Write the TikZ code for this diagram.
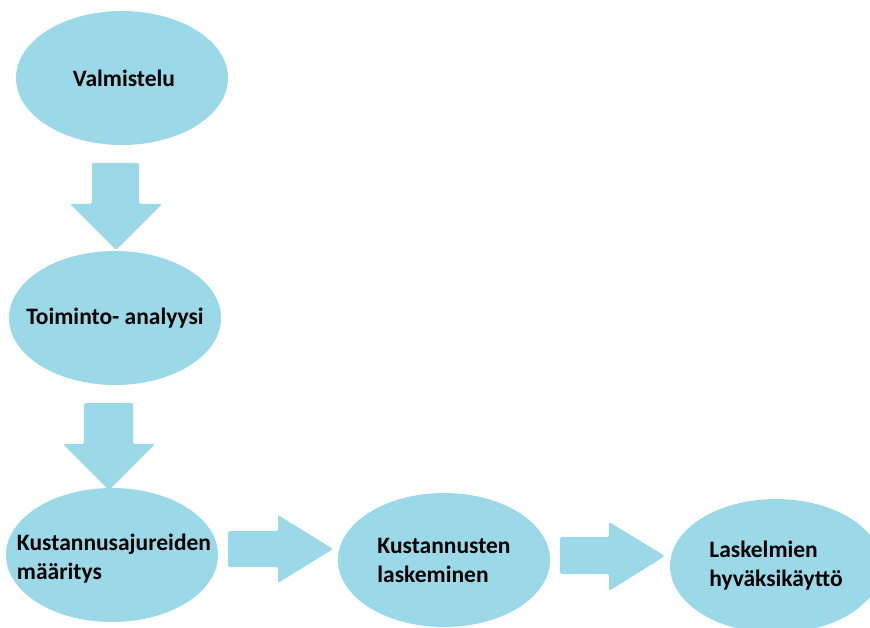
\documentclass[tikz,border=0pt]{standalone}
\usepackage{fontspec}
\setmainfont{Carlito}
\usetikzlibrary{shapes.geometric}
\definecolor{vaalea}{RGB}{155,217,233}

\begin{document}
\begin{tikzpicture}[
            x=1pt, y=-1pt,
            vaihe/.style={ellipse, fill=vaalea, minimum width=212pt, minimum height=134pt, inner sep=0pt},
            teksti/.style={font=\bfseries\fontsize{23.5}{29}\selectfont, align=left, inner sep=0pt},
            nuoli/.style={fill=vaalea, rounded corners=1.5pt}
        ]
            \useasboundingbox (0,0) rectangle (870,628);
            \clip (0,0) rectangle (870,628);

            % --- Vaiheet (ellissi) ---
            \node[vaihe] (valm) at (122,78) {};
            \node[vaihe] (toim) at (115,318) {};
            \node[vaihe] (kaju) at (112,555) {};
            \node[vaihe] (kusl) at (444,560) {};
            \node[vaihe] (lask) at (776,566) {};

            % Testi dentro
            \node[teksti] (valmT) at ([xshift=2pt]valm) {Valmistelu};
            \node[teksti] (toimT) at (toim) {Toiminto- analyysi};
            \node[teksti] (kajuT) at ([xshift=2pt,yshift=-4pt]kaju) {Kustannusajureiden\\määritys};
            \node[teksti] (kuslT) at (kusl) {Kustannusten\\laskeminen};
            \node[teksti] (laskT) at (lask) {Laskelmien\\hyväksikäyttö};

            % --- Frecce verso il basso ---
            \fill[nuoli] (92,163) -- (139,163) -- (139,204) -- (162,204) -- (116,250) -- (70,204) -- (92,204) -- cycle;
            \fill[nuoli] (84,403) -- (133,403) -- (133,444) -- (155,444) -- (109,490) -- (63,444) -- (84,444) -- cycle;

            % --- Frecce verso destra ---
            \fill[nuoli] (228,531) -- (278,531) -- (278,515) -- (333,549) -- (278,583) -- (278,567) -- (228,567) -- cycle;
            \fill[nuoli] (560,537) -- (609,537) -- (609,522) -- (665,556) -- (609,591) -- (609,574) -- (560,574) -- cycle;

    \end{tikzpicture}
\end{document}
